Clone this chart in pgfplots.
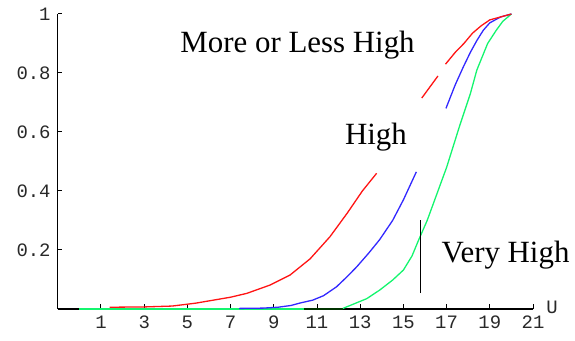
\documentclass[border=0pt]{standalone}
\usepackage{fontspec}
\setmainfont{Liberation Serif}
\setmonofont{Liberation Mono}
\usepackage{pgfplots}
\pgfplotsset{compat=1.18}
\definecolor{cred}{RGB}{255,20,20}
\definecolor{cblue}{RGB}{50,40,255}
\definecolor{cgreen}{RGB}{20,245,110}
\definecolor{ctick}{RGB}{40,40,40}
\begin{document}
\begin{tikzpicture}
\begin{axis}[
  at={(0,0)}, anchor=south west,
  scale only axis, width=475.2bp, height=295bp,
  xmin=-1, xmax=21, ymin=0, ymax=1,
  axis lines=left,
  axis line style={-, line width=1.3bp, black},
  xtick={1,3,...,21}, ytick={0.2,0.4,0.6,0.8,1},
  tick align=inside, major tick length=4.5bp,
  tick style={black, line width=1bp},
  ticklabel style={font=\fontsize{19}{19}\selectfont\ttfamily, text=ctick},
  /pgf/number format/assume math mode=true,
  yticklabel style={/pgf/number format/fixed, /pgf/number format/precision=1, inner sep=0pt, xshift=-7bp},
  xticklabel style={inner sep=0pt, yshift=-7bp},
  clip=false,
  every axis plot/.append style={line width=1.3bp, no markers},
]
% Very High (green)
\addplot[cgreen] coordinates {(0,0) (10.4,0)};
\addplot[black!80!green] coordinates {(10.4,0) (12.2,0)};
\addplot[cgreen] coordinates {
(12.2,0.002) (12.8,0.02) (13.3,0.035) (13.9,0.064) (14.5,0.098) (15.0,0.132)
(15.4,0.18) (15.7,0.233) (16.1,0.30) (16.5,0.38) (17.0,0.48) (17.3,0.55)
(17.6,0.62) (18.1,0.73) (18.4,0.81) (18.9,0.90) (19.3,0.945) (19.6,0.975) (20,1.0)};
% High (blue)
\addplot[cblue] coordinates {
(7.4,0.002) (8.5,0.003) (9.2,0.006) (9.8,0.012) (10.2,0.02) (10.8,0.03)
(11.3,0.045) (11.9,0.075) (12.4,0.11) (12.84,0.143) (13.4,0.19) (13.9,0.235)
(14.5,0.30) (15.0,0.37) (15.6,0.465)};
\addplot[cblue] coordinates {
(16.97,0.68) (17.4,0.76) (17.77,0.82) (18.1,0.87) (18.4,0.91) (18.7,0.945)
(19.0,0.97) (19.5,0.99) (20,1.0)};
% More or Less High (red)
\addplot[cred] coordinates {
(1.4,0.006) (3,0.007) (4.3,0.01) (5.4,0.02) (6.2,0.03) (7.0,0.04) (7.75,0.053)
(8.82,0.081) (9.75,0.115) (10.68,0.17) (11.6,0.245) (12.4,0.325) (13.1,0.40) (13.76,0.46)};
\addplot[cred] coordinates {(15.85,0.715) (16.2,0.75) (16.6,0.79)};
\addplot[cred] coordinates {
(16.95,0.83) (17.4,0.87) (17.8,0.90) (18.2,0.935) (18.6,0.96) (19.0,0.98) (19.5,0.99) (20,1.0)};
% annotations
\draw[black, line width=0.8bp] (axis cs:15.77,0.054) -- (axis cs:15.77,0.30);
\node[anchor=base, inner sep=0pt, font=\fontsize{31}{31}\selectfont] at (axis cs:10.1,0.871) {More or Less High};
\node[anchor=base, inner sep=0pt, font=\fontsize{31}{31}\selectfont] at (axis cs:13.73,0.556) {High};
\node[anchor=base, inner sep=0pt, font=\fontsize{31}{31}\selectfont] at (axis cs:19.73,0.156) {Very High};
\node[anchor=base, inner sep=0pt, text=ctick, font=\fontsize{19}{19}\selectfont\ttfamily] at (axis cs:21.88,-0.014) {U};
\end{axis}
\path (-57.8bp,-32bp) rectangle (517.2bp,309bp);
\end{tikzpicture}
\end{document}
